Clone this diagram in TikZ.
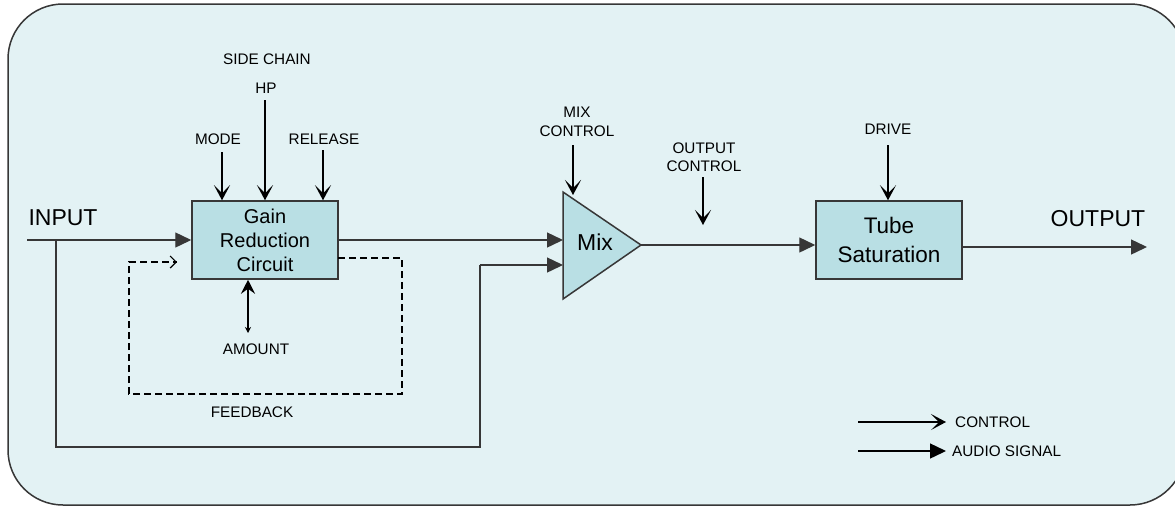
\documentclass[tikz,border=0pt]{standalone}
\usepackage{fontspec}
\setmainfont{Liberation Sans}
\usetikzlibrary{arrows.meta}
\definecolor{bgc}{RGB}{227,242,244}
\definecolor{boxc}{RGB}{185,223,228}
\definecolor{edgec}{RGB}{55,55,55}
\tikzset{
  lbl/.style={font=\fontsize{15.3pt}{18.5pt}\selectfont, align=center, inner sep=0pt},
  big/.style={font=\fontsize{23pt}{27pt}\selectfont, inner sep=0pt},
  blockbox/.style={draw=edgec, line width=1.5pt, fill=boxc, inner sep=0pt, align=center},
  audio/.style={draw=edgec, line width=1.4pt, -{Triangle[length=16pt,width=15pt]}},
  ctrl/.style={draw=black, line width=1.8pt, -{Stealth[length=15pt,width=16pt,inset=8pt]}},
  fb/.style={draw=black, line width=1.2pt, dash pattern=on 7pt off 4pt},
}
\begin{document}
\begin{tikzpicture}[x=1pt,y=-1pt]
\useasboundingbox (0,0) rectangle (1175,507);
\begin{scope}
\clip (0,0) rectangle (1175,507);
\draw[draw=edgec, line width=1.5pt, fill=bgc, rounded corners=55pt] (8,4) rectangle (1185,505);
\end{scope}

% blocks
\node[blockbox, minimum width=146pt, minimum height=78pt, font=\fontsize{20pt}{24pt}\selectfont] (gain) at (265,240) {Gain\\Reduction\\Circuit};
\node[blockbox, minimum width=146pt, minimum height=78pt, font=\fontsize{22.5pt}{29pt}\selectfont] (tube) at (889,240) {Tube\\Saturation};

% mix triangle
\coordinate (mixA) at (563,192);
\coordinate (mixB) at (563,299);
\coordinate (mixT) at (641,245);
\draw[draw=edgec, line width=1.5pt, fill=boxc] (mixA) -- (mixT) -- (mixB) -- cycle;
\node[font=\fontsize{23pt}{27pt}\selectfont, inner sep=0pt] (mix) at (595,242) {Mix};

% labels
\node[big] (input) at (63,218) {INPUT};
\node[big] (output) at (1098,219) {OUTPUT};
\node[lbl] (sidechain) at (267,59) {SIDE CHAIN};
\node[lbl] (hp) at (266,88) {HP};
\node[lbl] (mode) at (218,139) {MODE};
\node[lbl] (release) at (324,139) {RELEASE};
\node[lbl] (mixctl) at (577,122) {MIX\\CONTROL};
\node[lbl] (outctl) at (704,157) {OUTPUT\\CONTROL};
\node[lbl] (drive) at (888,129) {DRIVE};
\node[lbl] (amount) at (256,349) {AMOUNT};
\node[lbl] (feedback) at (252,412) {FEEDBACK};
\node[lbl, anchor=west] (lctrl) at (955,422) {CONTROL};
\node[lbl, anchor=west] (laudio) at (952,451) {AUDIO SIGNAL};

% audio paths
\coordinate (inL) at (27,240);
\coordinate (split) at (56,240);
\coordinate (low1) at (56,447);
\coordinate (low2) at (480,447);
\coordinate (low3) at (480,265);
\coordinate (mixin2) at (563,265);
\coordinate (mixin1) at (563,240);
\coordinate (outR) at (1147,247);
\draw[audio] (inL) -- (gain.west);
\draw[draw=edgec, line width=1.4pt] (split) -- (low1) -- (low2) -- (low3);
\draw[audio] (low3) -- (mixin2);
\draw[audio] (gain.east) -- (mixin1);
\draw[audio] (mixT) -- (mixT -| tube.west);
\draw[audio] (tube.east |- outR) -- (outR);

% control arrows
\coordinate (modeS) at (222,152);
\coordinate (hpS) at (265,100);
\coordinate (relS) at (323,150);
\draw[ctrl] (modeS) -- (modeS |- gain.north);
\draw[ctrl] (hpS) -- (hpS |- gain.north);
\draw[ctrl] (relS) -- (relS |- gain.north);
\coordinate (mcS) at (573,145);
\coordinate (mcE) at (573,195);
\draw[ctrl, line width=1.5pt] (mcS) -- (mcE);
\coordinate (ocS) at (703,177);
\coordinate (ocE) at (703,225);
\draw[ctrl, line width=1.5pt] (ocS) -- (ocE);
\coordinate (drS) at (888,145);
\draw[ctrl, line width=1.5pt] (drS) -- (drS |- tube.north);

% amount
\coordinate (amS) at (248,333);
\draw[line width=1.5pt, {Stealth[length=14pt,width=14pt,inset=5pt]}-{Stealth[length=6pt,width=6pt]}] (amS |- gain.south) -- (amS);

% feedback
\coordinate (fb1) at (338,258);
\coordinate (fb2) at (402,258);
\coordinate (fb3) at (402,394);
\coordinate (fb4) at (129,394);
\coordinate (fb5) at (129,262);
\coordinate (fb6) at (177,262);
\coordinate (fb7) at (175,262);
\draw[fb] (fb1) -- (fb2) -- (fb3) -- (fb4) -- (fb5) -- (fb6);
\draw[line width=1.2pt, -{Straight Barb[length=6pt,width=12pt]}] (fb7) -- (fb6);

% legend
\coordinate (lc1) at (858,422);
\coordinate (lc2) at (946,422);
\coordinate (la1) at (858,451);
\coordinate (la2) at (946,451);
\draw[ctrl, line width=1.5pt] (lc1) -- (lc2);
\draw[audio, draw=black] (la1) -- (la2);
\end{tikzpicture}
\end{document}
